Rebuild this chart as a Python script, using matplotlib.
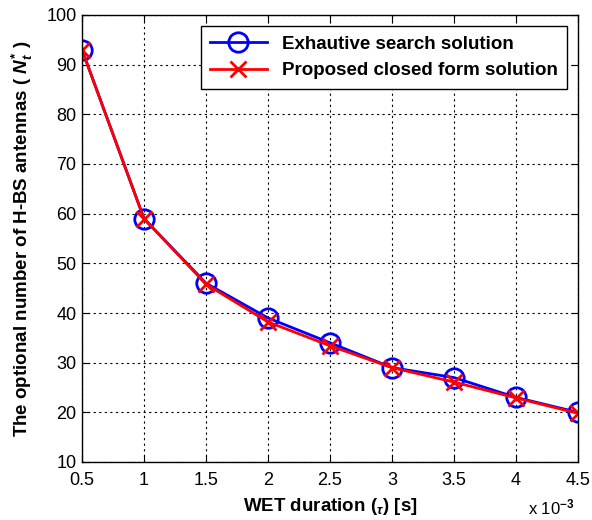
import matplotlib
matplotlib.use("Agg")
import matplotlib.pyplot as plt

tau = [0.5, 1.0, 1.5, 2.0, 2.5, 3.0, 3.5, 4.0, 4.5]
exhaustive = [93, 59, 46, 39, 34, 29, 27, 23, 20]
closed_form = [93, 59, 45.8, 38.2, 33.4, 29, 26.1, 22.9, 19.8]
xticks = [0.5, 1, 1.5, 2, 2.5, 3, 3.5, 4, 4.5]
yticks = [10, 20, 30, 40, 50, 60, 70, 80, 90, 100]

plt.rcParams['font.family'] = ['Liberation Sans', 'DejaVu Sans']
plt.rcParams['mathtext.fontset'] = 'custom'
plt.rcParams['mathtext.it'] = 'Liberation Sans:italic:bold'
plt.rcParams['mathtext.rm'] = 'Liberation Sans:bold'

fig = plt.figure(figsize=(5.92, 5.2), dpi=100)
W, H = 592, 520
L, R, T, B = 82, 578, 15, 462
ax = fig.add_axes([L / W, (H - B) / H, (R - L) / W, (B - T) / H])

ax.plot(tau, exhaustive, color='#0000ff', lw=2, marker='o', ms=14,
        mfc='none', mew=2, label='Exhautive search solution')
ax.plot(tau, closed_form, color='#ff0000', lw=2, marker='x', ms=12,
        mew=2, label='Proposed closed form solution')

ax.set_xlim(0.5, 4.5)
ax.set_ylim(10, 100)
ax.set_xticks(xticks)
ax.set_xticklabels(['0.5', '1', '1.5', '2', '2.5', '3', '3.5', '4', '4.5'])
ax.set_yticks(yticks)
ax.tick_params(direction='in', top=True, right=True, labelsize=13, length=5)
ax.tick_params(axis='x', pad=7)
ax.tick_params(axis='y', pad=4)
ax.grid(True, color='black', linestyle=(0, (2, 3)), linewidth=0.8)
for s in ax.spines.values():
    s.set_linewidth(1.0)

ax.set_xlabel(r'WET duration ($_\tau$) [s]', fontsize=13.5, fontweight='bold', labelpad=5)
ax.set_ylabel(r'The optional number of H-BS antennas ( $N_t^{*}$ )', fontsize=13.5,
              fontweight='bold', labelpad=8)
fig.text(528 / W, 1 - 514 / H, r'x 10$^{-3}$', fontsize=12)

leg = ax.legend(loc='upper right', prop={'weight': 'bold', 'size': 13.5},
                fancybox=False, edgecolor='black', framealpha=1,
                handlelength=3.0, borderaxespad=0.6, labelspacing=0.5,
                borderpad=0.5)
leg.get_frame().set_linewidth(1.0)

fig.savefig('out.png', dpi=100)
